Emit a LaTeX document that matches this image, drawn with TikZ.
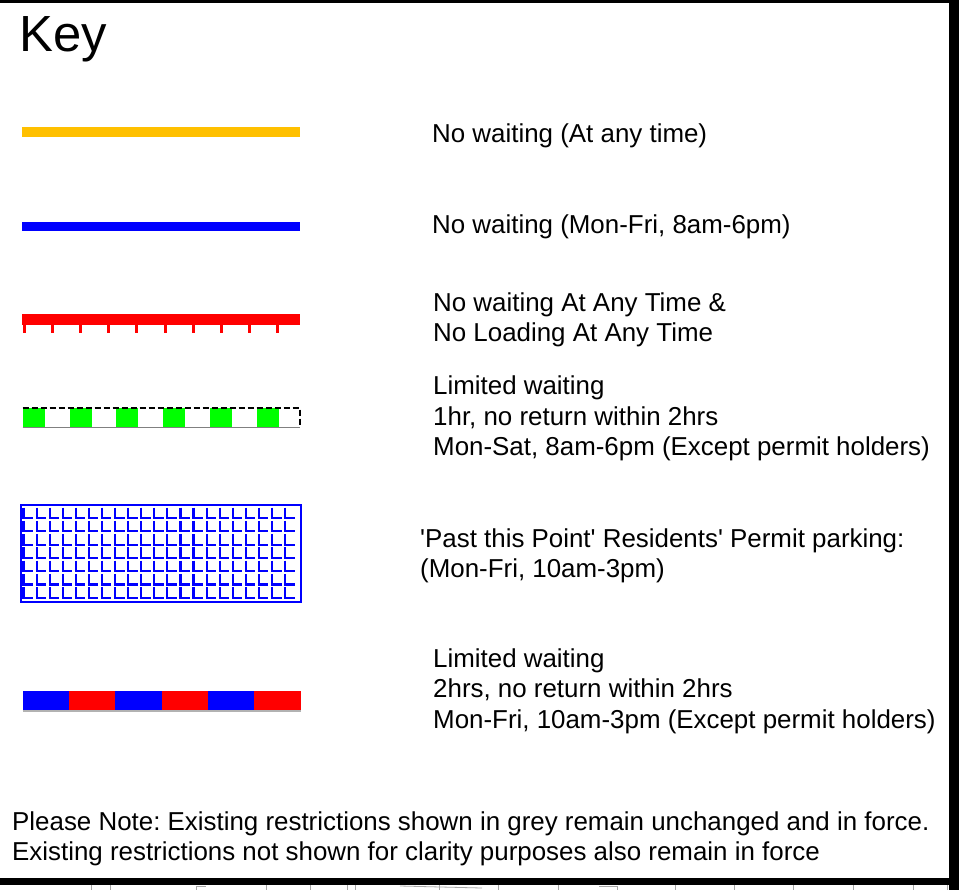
\documentclass[tikz,border=0pt]{standalone}
\usepackage{fontspec}
\setmainfont{Liberation Sans}
\usetikzlibrary{positioning}
\frenchspacing

\definecolor{keyyellow}{RGB}{255,192,0}
\definecolor{keygreen}{RGB}{0,255,0}

\begin{document}
\begin{tikzpicture}[x=1bp,y=-1bp,every node/.style={anchor=west,inner sep=0pt,align=left,font=\fontsize{26}{30.6}\selectfont},
	bar/.style={line width=#1,line cap=butt},
	hatch/.style={blue,line width=2.1bp},
	stub/.style={gray!70,line width=0.8bp}]
	
	\useasboundingbox (0,0) rectangle (967,890);
	\fill[white] (0,0) rectangle (967,890);
	
	% frame
	\fill[black] (0,0) rectangle (959,3);
	\fill[black] (0,878) rectangle (950,885);
	\foreach \x in {91,110,266,310,347,355,439,498,558,675,734,793,853,913,947}
		\draw[stub] (\x,885) -- (\x,890);
	\draw[stub] (196,890) |- (206,886.5);
	\draw[stub] (400,886) -- (482,888);
	\draw[stub] (599,886) -- (617,886) -- (617,890);
	
	\node[anchor=base west,font=\fontsize{51}{60}\selectfont] (key) at (19,51) {Key};
	
	% lines of the key
	\draw[bar=10bp,keyyellow] (22,132) -- (300,132);
	\draw[bar=9bp,blue] (22,226) -- (300,226);
	
	\draw[bar=11bp,red] (22,319.5) -- (300,319.5);
	\foreach \i in {0,...,9}
		\fill[red] ({23+28.1*\i},324) rectangle ++(3,9);
	
	\foreach \i in {0,...,5}
		\fill[keygreen] ({23+46.7*\i},408) rectangle ++(22,18.5);
	\draw[black,line width=1.2bp,dash pattern=on 6bp off 3bp] (22.5,408) -- (300,408) -- (300,426.5);
	\draw[gray] (22.5,427) -- (300,427);
	
	\draw[blue,line width=2bp] (21,504.5) rectangle (301,601.5);
	\foreach \i in {0,...,20}
		\foreach \j in {0,...,6}
			\draw[hatch] ({23.5+13.08*\i},{507.5+13.3*\j}) |- ++(9.5,10.5);
	
	\foreach \i/\c in {0/blue,1/red,2/blue,3/red,4/blue,5/red}
		\fill[\c] ({22.7+46.33*\i},691) rectangle ++(46.33,19);
	\draw[gray!60,line width=1.5bp] (22.7,711) -- (300.7,711);
	
	% texts
	\node (anytime) at (432,135.6) {No waiting (At any time)};
	\node (monfri) at (432,226.6) {No waiting (Mon-Fri, 8am-6pm)};
	\node (noload) at (433,319.6) {No waiting At Any Time \&\\No Loading At Any Time};
	\node (limsat) at (433,418.6) {Limited waiting\\1hr, no return within 2hrs\\Mon-Sat, 8am-6pm (Except permit holders)};
	\node (permit) at (420,555.6) {\textquotesingle Past this Point\textquotesingle{} Residents\textquotesingle{} Permit parking:\\(Mon-Fri, 10am-3pm)};
	\node (limfri) at (433,691) {Limited waiting\\2hrs, no return within 2hrs\\Mon-Fri, 10am-3pm (Except permit holders)};
	\node (note) at (12,838.6) {Please Note: Existing restrictions shown in grey remain unchanged and in force.\\Existing restrictions not shown for clarity purposes also remain in force};
	
	\fill[black] (949,0) rectangle (959,890);
	
\end{tikzpicture}
\end{document}
